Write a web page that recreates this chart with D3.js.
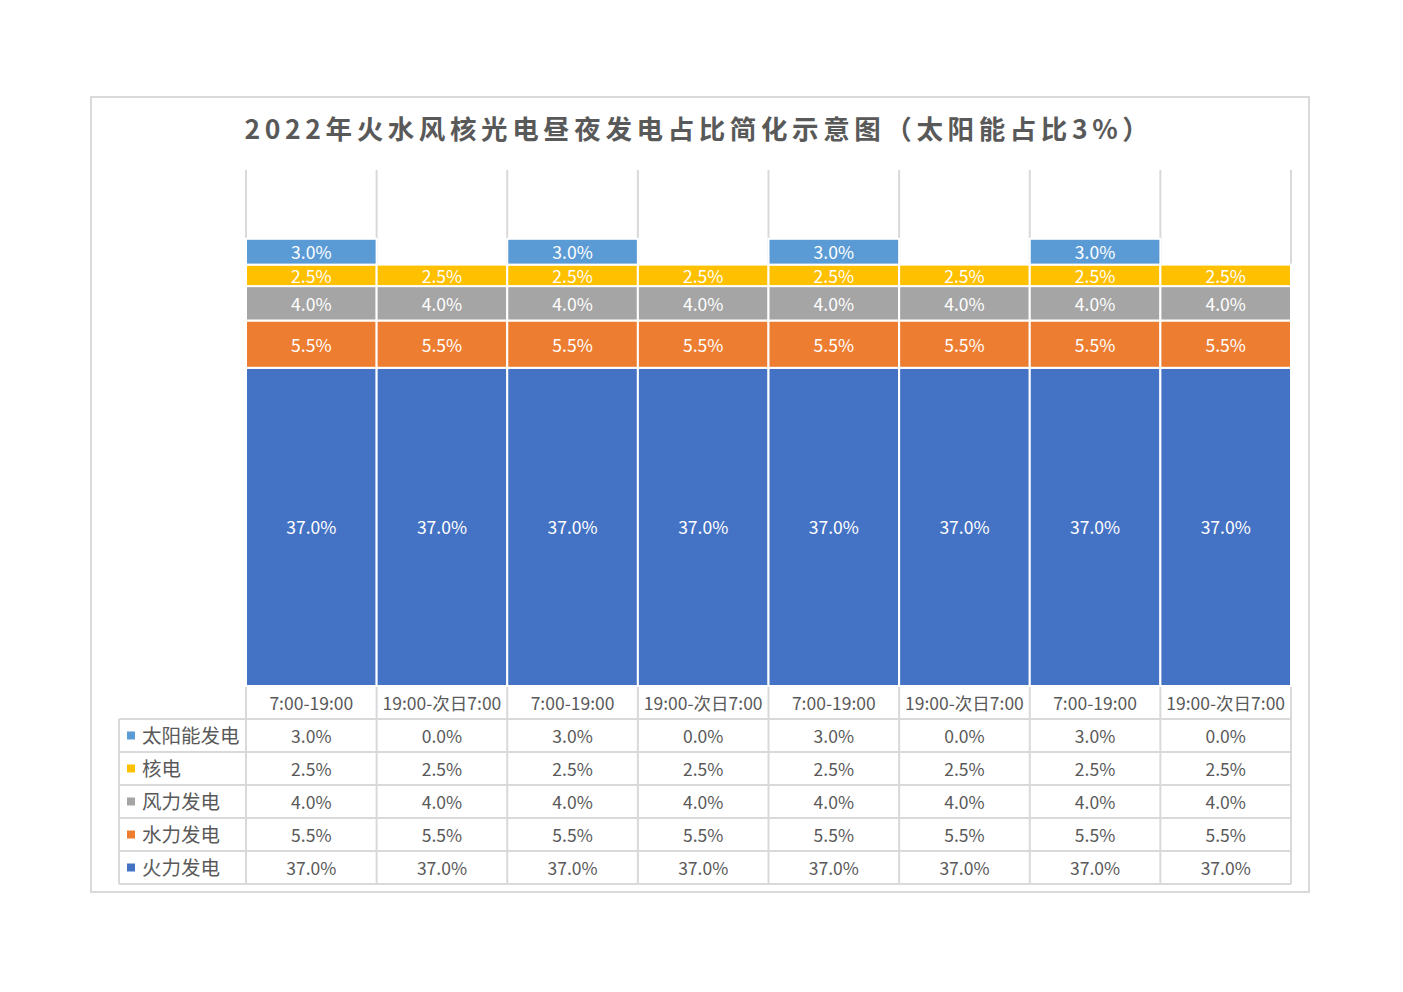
<!DOCTYPE html>
<html>
<head>
<meta charset="utf-8">
<script src="https://cdn.jsdelivr.net/npm/d3@7"></script>
<style>
  body { margin: 0; background: #fff; }
  svg text { font-family: "Noto Sans CJK SC", "Noto Sans", sans-serif; }
</style>
</head>
<body>
<div id="chart"></div>
<script>
// categories along x
const categories = ["7:00-19:00", "19:00-次日7:00", "7:00-19:00", "19:00-次日7:00",
                    "7:00-19:00", "19:00-次日7:00", "7:00-19:00", "19:00-次日7:00"];
// series, bottom to top of the stack
const seriesNames = ["火力发电", "水力发电", "风力发电", "核电", "太阳能发电"];
const thermal = [37.0, 37.0, 37.0, 37.0, 37.0, 37.0, 37.0, 37.0];
const hydro   = [5.5, 5.5, 5.5, 5.5, 5.5, 5.5, 5.5, 5.5];
const wind    = [4.0, 4.0, 4.0, 4.0, 4.0, 4.0, 4.0, 4.0];
const nuclear = [2.5, 2.5, 2.5, 2.5, 2.5, 2.5, 2.5, 2.5];
const solar   = [3.0, 0.0, 3.0, 0.0, 3.0, 0.0, 3.0, 0.0];
const colors = ["#4472C4", "#ED7D31", "#A5A5A5", "#FFC000", "#5B9BD5"];

const seriesValues = [thermal, hydro, wind, nuclear, solar];
const rows = categories.map((c, i) => {
    const r = { idx: i, cat: c };
    seriesNames.forEach((s, j) => r[s] = seriesValues[j][i]);
    return r;
});

const W = 1403, H = 992;
const plot = { left: 246, right: 1291, top: 170, bottom: 686 };
const rowH = 33;
const tableLeft = 119;
const lineColor = "#d9d9d9";
const fmt = v => v.toFixed(1) + "%";

const svg = d3.select("#chart").append("svg")
    .attr("width", W).attr("height", H);

// outer chart border
svg.append("rect")
    .attr("x", 91).attr("y", 97)
    .attr("width", 1218).attr("height", 795)
    .attr("fill", "#fff")
    .attr("stroke", lineColor)
    .attr("stroke-width", 2);

// title
svg.append("text")
    .attr("x", 699).attr("y", 139)
    .attr("text-anchor", "middle")
    .attr("fill", "#595959")
    .attr("font-size", 26.5)
    .attr("font-weight", "bold")
    .attr("letter-spacing", 4.6)
    .text("2022年火水风核光电昼夜发电占比简化示意图（太阳能占比3%）");

const x = d3.scaleBand()
    .domain(d3.range(categories.length))
    .range([plot.left, plot.right])
    .padding(0);

const y = d3.scaleLinear()
    .domain([0, 60])
    .range([plot.bottom, plot.top]);

// vertical grid / table lines at category boundaries
const bounds = d3.range(categories.length).map(i => x(i)).concat([plot.right]);
const tableBottom = plot.bottom + rowH * (seriesNames.length + 1);
svg.append("g").selectAll("line")
    .data(bounds)
    .enter().append("line")
    .attr("x1", d => d).attr("x2", d => d)
    .attr("y1", plot.top).attr("y2", tableBottom)
    .attr("stroke", lineColor)
    .attr("stroke-width", 2);

// stacked bars
const stack = d3.stack().keys(seriesNames);
const stacked = stack(rows);

const layers = svg.append("g").selectAll("g")
    .data(stacked)
    .enter().append("g")
    .attr("fill", (d, i) => colors[i]);

layers.selectAll("rect")
    .data(d => d.filter(p => p[1] - p[0] > 0))
    .enter().append("rect")
    .attr("x", d => x(d.data.idx))
    .attr("width", x.bandwidth())
    .attr("y", d => y(d[1]))
    .attr("height", d => y(d[0]) - y(d[1]))
    .attr("stroke", "#fff")
    .attr("stroke-width", 2);

layers.selectAll("text")
    .data(d => d.filter(p => p[1] - p[0] > 0))
    .enter().append("text")
    .attr("x", d => x(d.data.idx) + x.bandwidth() / 2)
    .attr("y", d => (y(d[0]) + y(d[1])) / 2)
    .attr("dy", "0.42em")
    .attr("text-anchor", "middle")
    .attr("fill", "#fff")
    .attr("font-size", 17.5)
    .text(d => fmt(d[1] - d[0]));

// data table
const table = svg.append("g");

// horizontal lines
const hLines = d3.range(seriesNames.length + 1).map(i => plot.bottom + rowH * (i + 1));
table.selectAll("line.h")
    .data(hLines)
    .enter().append("line")
    .attr("class", "h")
    .attr("x1", tableLeft).attr("x2", plot.right)
    .attr("y1", d => d).attr("y2", d => d)
    .attr("stroke", lineColor)
    .attr("stroke-width", 2);

table.append("line")
    .attr("x1", tableLeft).attr("x2", tableLeft)
    .attr("y1", plot.bottom + rowH).attr("y2", tableBottom)
    .attr("stroke", lineColor)
    .attr("stroke-width", 2);

// category labels (header row)
table.selectAll("text.cat")
    .data(categories)
    .enter().append("text")
    .attr("class", "cat")
    .attr("x", (d, i) => x(i) + x.bandwidth() / 2)
    .attr("y", plot.bottom + rowH / 2)
    .attr("dy", "0.42em")
    .attr("text-anchor", "middle")
    .attr("fill", "#595959")
    .attr("font-size", 17.5)
    .text(d => d);

// rows, top to bottom: reverse of stack order
const tableOrder = d3.range(seriesNames.length).reverse();
tableOrder.forEach((s, r) => {
    const cy = plot.bottom + rowH * (r + 1) + rowH / 2;
    table.append("rect")
        .attr("x", 127).attr("y", cy - 4)
        .attr("width", 8).attr("height", 8)
        .attr("fill", colors[s]);
    table.append("text")
        .attr("x", 142).attr("y", cy)
        .attr("dy", "0.4em")
        .attr("fill", "#595959")
        .attr("font-size", 19.5)
        .text(seriesNames[s]);
    table.selectAll(null)
        .data(seriesValues[s])
        .enter().append("text")
        .attr("x", (d, i) => x(i) + x.bandwidth() / 2)
        .attr("y", cy)
        .attr("dy", "0.42em")
        .attr("text-anchor", "middle")
        .attr("fill", "#595959")
        .attr("font-size", 17.5)
        .text(d => fmt(d));
});
</script>
</body>
</html>
